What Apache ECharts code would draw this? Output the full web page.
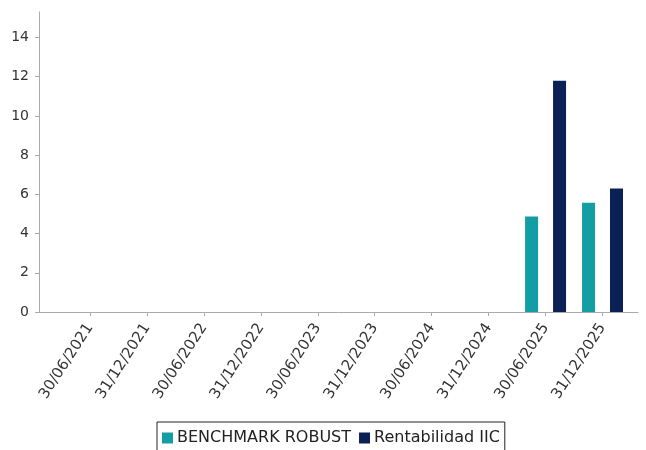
<!DOCTYPE html>
<html>
<head>
<meta charset="utf-8">
<script src="https://cdn.jsdelivr.net/npm/echarts@6/dist/echarts.min.js"></script>
<style>
  html, body { margin: 0; padding: 0; background: #fff; }
  #chart { width: 646px; height: 450px; }
</style>
</head>
<body>
<div id="chart"></div>
<script>
// fechas del eje x
var categories = ['30/06/2021', '31/12/2021', '30/06/2022', '31/12/2022', '30/06/2023',
  '31/12/2023', '30/06/2024', '31/12/2024', '30/06/2025', '31/12/2025'];
var benchmark = [null, null, null, null, null, null, null, null, 4.87, 5.57];
var rentabilidad = [null, null, null, null, null, null, null, null, 11.8, 6.3];
var yTicks = [0, 2, 4, 6, 8, 10, 12, 14];

var chart = echarts.init(document.getElementById('chart'));
var font = 'DejaVu Sans';
var yMax = 15.3;

var option = {
  animation: false,
  textStyle: { fontFamily: font },
  legend: {
    left: 157,
    top: 422,
    data: ['BENCHMARK ROBUST', 'Rentabilidad IIC'],
    borderColor: '#222',
    borderWidth: 1,
    padding: [8, 5, 8, 5],
    itemWidth: 11,
    itemHeight: 11,
    itemGap: 8,
    icon: 'rect',
    textStyle: { fontSize: 16, color: '#222', fontFamily: font, padding: [0, 0, 0, -1] }
  },
  grid: [
    // marco: linea de ejes
    { left: 39, right: 8, top: 12, bottom: 138 },
    // datos
    { left: 61.5, right: 15, top: 12, bottom: 138 }
  ],
  xAxis: [
    {
      gridIndex: 0, type: 'category', data: [''],
      axisLine: { lineStyle: { color: '#aaa' } },
      axisTick: { show: false }, axisLabel: { show: false }
    },
    {
      gridIndex: 1, type: 'category', data: categories,
      axisLine: { show: false },
      axisTick: { show: true, alignWithLabel: true, length: 4, lineStyle: { color: '#aaa' } },
      axisLabel: { rotate: 57, fontSize: 15, color: '#333', margin: 13, interval: 0, fontFamily: font }
    }
  ],
  yAxis: [
    {
      gridIndex: 0, type: 'value', min: 0, max: yMax, interval: 2,
      axisLine: { show: true, lineStyle: { color: '#aaa' } },
      axisTick: { show: true, length: 4, lineStyle: { color: '#aaa' } },
      splitLine: { show: false },
      axisLabel: {
        fontSize: 14, color: '#333', margin: 10, fontFamily: font, showMaxLabel: false,
        formatter: function (v) { return yTicks.indexOf(v) >= 0 ? String(v) : ''; }
      }
    },
    {
      gridIndex: 1, type: 'value', min: 0, max: yMax, interval: 2, show: false,
      splitLine: { show: false }
    }
  ],
  series: [
    {
      name: 'BENCHMARK ROBUST', type: 'bar', xAxisIndex: 1, yAxisIndex: 1,
      data: benchmark, barWidth: 13, barGap: '115%',
      itemStyle: { color: '#139ea6' }
    },
    {
      name: 'Rentabilidad IIC', type: 'bar', xAxisIndex: 1, yAxisIndex: 1,
      data: rentabilidad, barWidth: 13, barGap: '115%',
      itemStyle: { color: '#0b2055' }
    }
  ]
};

chart.setOption(option);
</script>
</body>
</html>
